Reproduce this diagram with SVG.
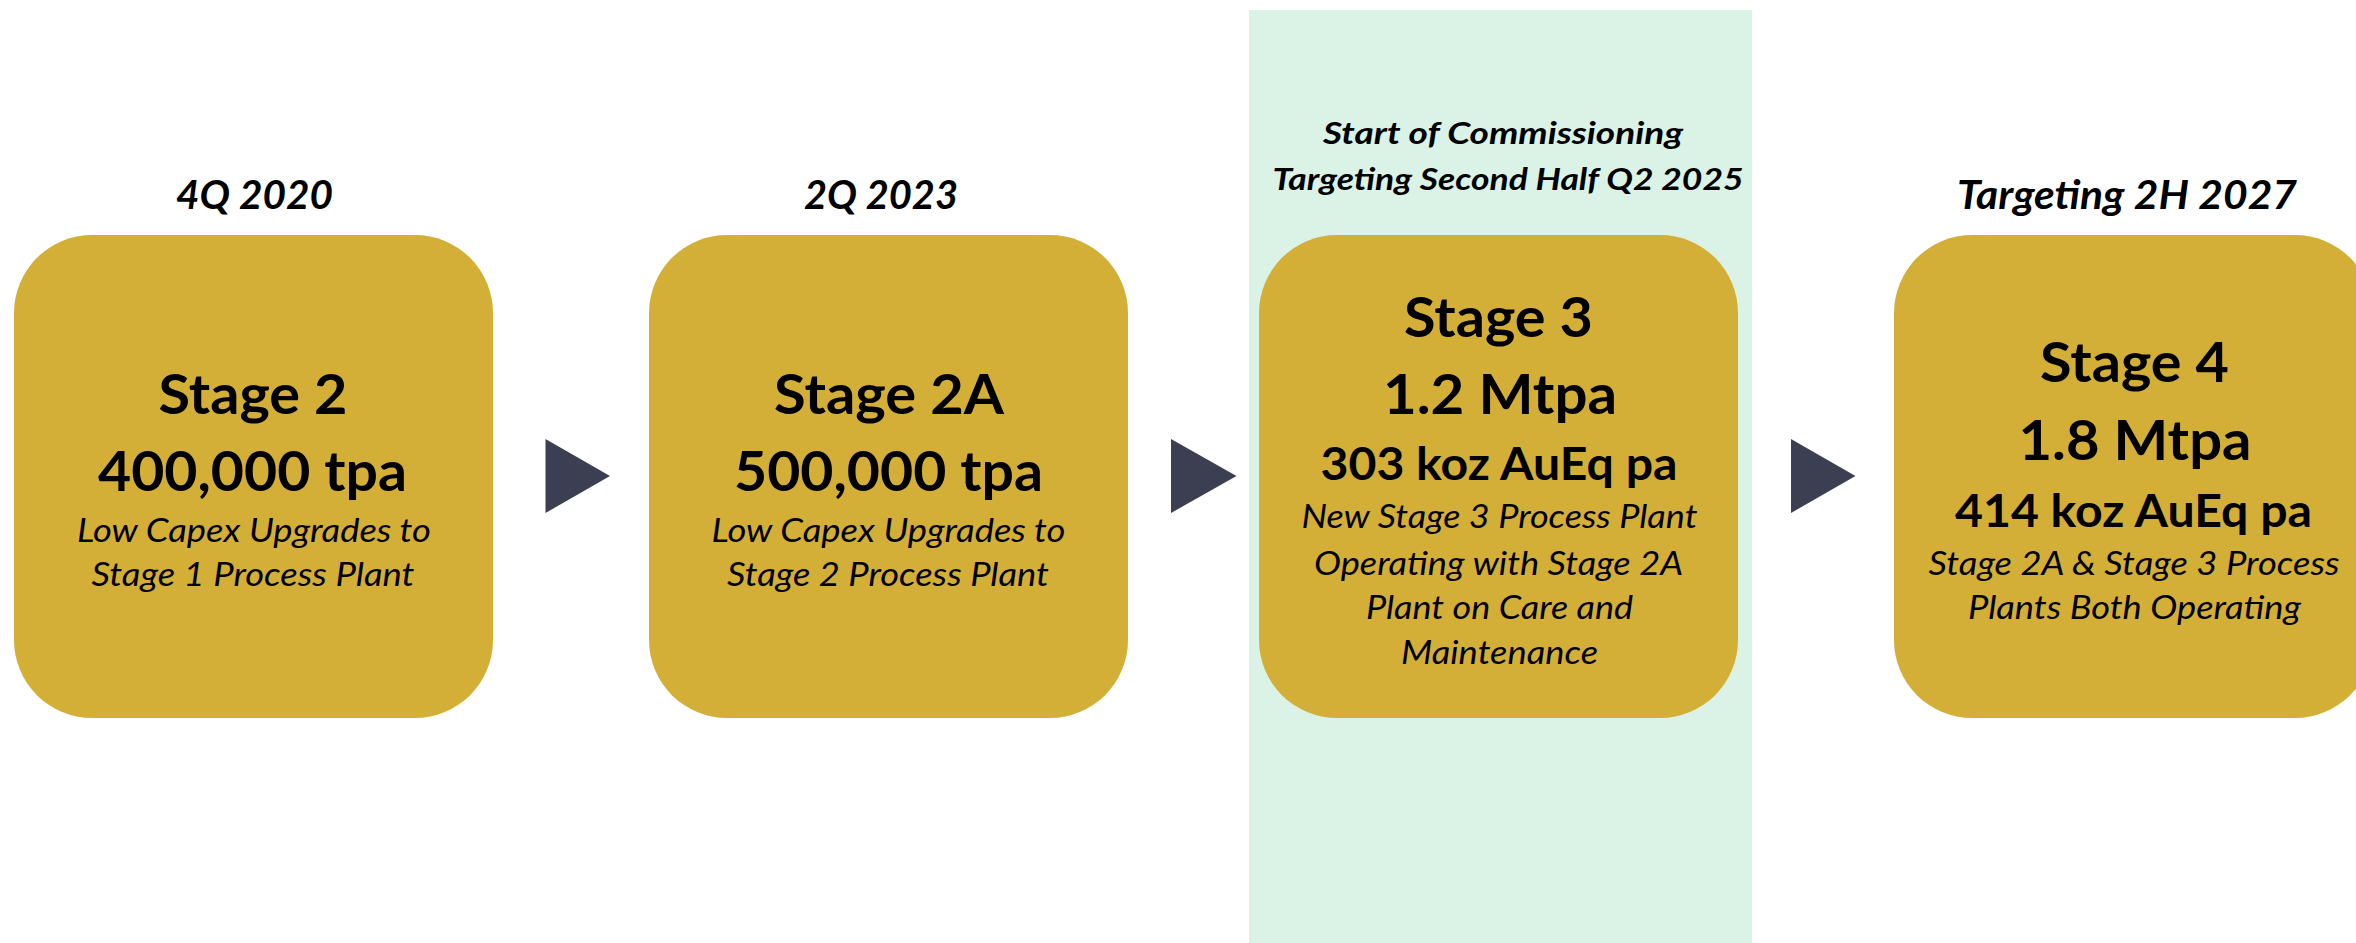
<svg xmlns="http://www.w3.org/2000/svg" width="2356" height="943" viewBox="0 0 2356 943">
<style>
.box{fill:#D4AF37}
.arrow{fill:#3C3F51}
.t{font-family:Lato,"Open Sans","Liberation Sans",sans-serif;fill:#000;text-anchor:middle}
.hdr{font-weight:bold;font-style:italic;font-size:40px}
.hdr3{font-weight:bold;font-style:italic;font-size:31px}
.big{font-weight:bold;font-size:55px}
.mid{font-weight:bold;font-size:46px}
.sub{font-style:italic;font-size:32px}
</style>
<rect width="2356" height="943" fill="#FFFFFF"/>
<rect id="highlight" x="1249" y="10" width="503" height="933" fill="#DBF2E6"/>
<g id="stage2">
<text class="t hdr" x="254.5" y="209" textLength="157" lengthAdjust="spacingAndGlyphs">4Q 2020</text>
<rect class="box" x="14" y="235" width="479" height="483" rx="78" ry="78"/>
<text class="t big" x="253" y="414" textLength="189" lengthAdjust="spacingAndGlyphs">Stage 2</text>
<text class="t big" x="252.5" y="491" textLength="309" lengthAdjust="spacingAndGlyphs">400,000 tpa</text>
<text class="t sub" x="254" y="542" textLength="354" lengthAdjust="spacingAndGlyphs">Low Capex Upgrades to</text>
<text class="t sub" x="253" y="586" textLength="323" lengthAdjust="spacingAndGlyphs">Stage 1 Process Plant</text>
</g>
<g id="stage2a">
<text class="t hdr" x="881" y="209" textLength="154" lengthAdjust="spacingAndGlyphs">2Q 2023</text>
<rect class="box" x="649" y="235" width="479" height="483" rx="78" ry="78"/>
<text class="t big" x="889" y="414" textLength="230" lengthAdjust="spacingAndGlyphs">Stage 2A</text>
<text class="t big" x="888.5" y="491" textLength="309" lengthAdjust="spacingAndGlyphs">500,000 tpa</text>
<text class="t sub" x="888.5" y="542" textLength="354" lengthAdjust="spacingAndGlyphs">Low Capex Upgrades to</text>
<text class="t sub" x="888" y="586" textLength="322" lengthAdjust="spacingAndGlyphs">Stage 2 Process Plant</text>
</g>
<g id="stage3">
<text class="t hdr3" x="1503" y="144" textLength="360" lengthAdjust="spacingAndGlyphs">Start of Commissioning</text>
<text class="t hdr3" x="1508" y="190" textLength="471" lengthAdjust="spacingAndGlyphs">Targeting Second Half Q2 2025</text>
<rect class="box" x="1259" y="235" width="479" height="483" rx="78" ry="78"/>
<text class="t big" x="1498.5" y="337" textLength="189" lengthAdjust="spacingAndGlyphs">Stage 3</text>
<text class="t big" x="1500" y="414" textLength="234" lengthAdjust="spacingAndGlyphs">1.2 Mtpa</text>
<text class="t mid" x="1499" y="480" textLength="357" lengthAdjust="spacingAndGlyphs">303 koz AuEq pa</text>
<text class="t sub" x="1499.5" y="528" textLength="396" lengthAdjust="spacingAndGlyphs">New Stage 3 Process Plant</text>
<text class="t sub" x="1498.5" y="575" textLength="369" lengthAdjust="spacingAndGlyphs">Operating with Stage 2A</text>
<text class="t sub" x="1499.5" y="619" textLength="267" lengthAdjust="spacingAndGlyphs">Plant on Care and</text>
<text class="t sub" x="1499.5" y="664" textLength="197" lengthAdjust="spacingAndGlyphs">Maintenance</text>
</g>
<g id="stage4">
<text class="t hdr" x="2127" y="209" textLength="340" lengthAdjust="spacingAndGlyphs">Targeting 2H 2027</text>
<rect class="box" x="1894" y="235" width="479" height="483" rx="78" ry="78"/>
<text class="t big" x="2134.5" y="381.5" textLength="189" lengthAdjust="spacingAndGlyphs">Stage 4</text>
<text class="t big" x="2135" y="460" textLength="233" lengthAdjust="spacingAndGlyphs">1.8 Mtpa</text>
<text class="t mid" x="2133.5" y="527" textLength="357" lengthAdjust="spacingAndGlyphs">414 koz AuEq pa</text>
<text class="t sub" x="2134" y="575" textLength="411" lengthAdjust="spacingAndGlyphs">Stage 2A &amp; Stage 3 Process</text>
<text class="t sub" x="2134.5" y="619" textLength="333" lengthAdjust="spacingAndGlyphs">Plants Both Operating</text>
</g>
<g id="connectors">
<polygon class="arrow" points="545.5,439 610,476 545.5,513"/>
<polygon class="arrow" points="1171,439 1236.5,476 1171,513"/>
<polygon class="arrow" points="1791,439 1855.5,476 1791,513"/>
</g>
</svg>
